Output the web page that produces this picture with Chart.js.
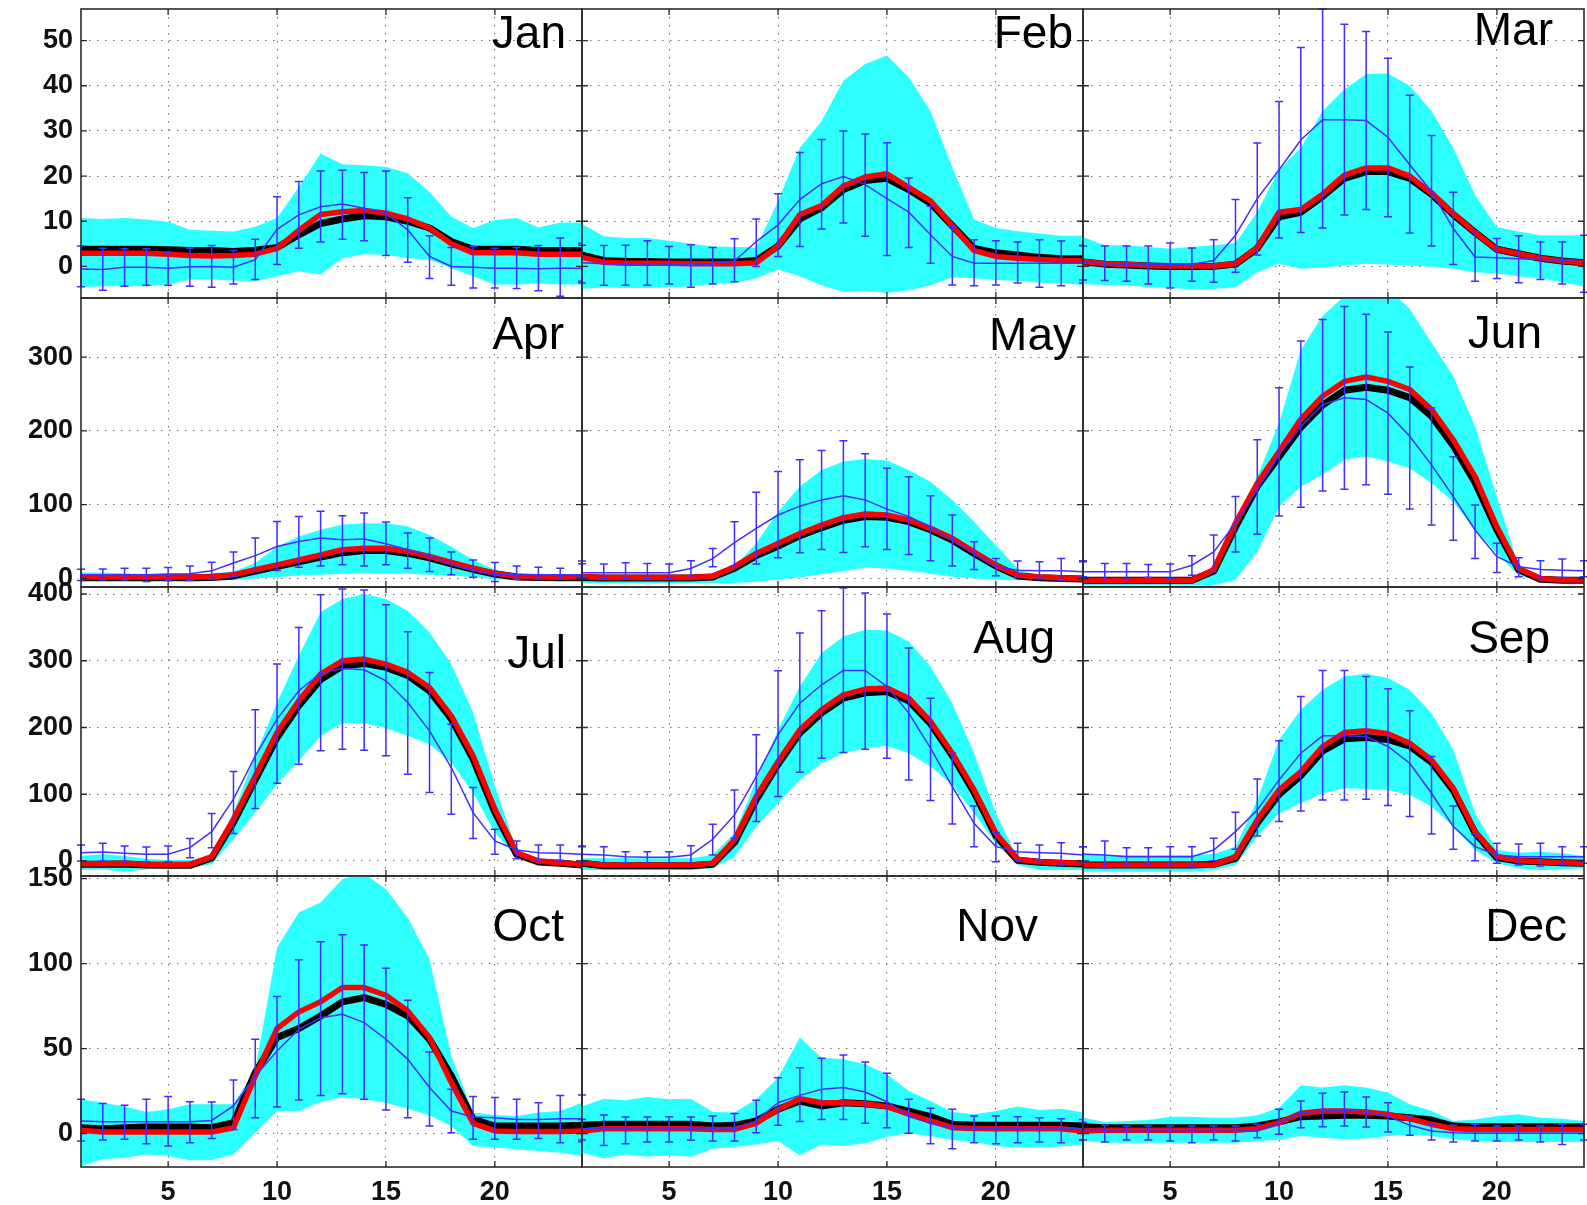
<!DOCTYPE html>
<html>
<head>
<meta charset="utf-8">
<script src="https://cdn.jsdelivr.net/npm/chart.js@4.4.1/dist/chart.umd.min.js"></script>
<style>
  html, body { margin: 0; padding: 0; background: #fff; }
  #wrap { position: relative; width: 1587px; height: 1205px; overflow: hidden; }
  #wrap canvas { position: absolute; }
</style>
</head>
<body>
<div id="wrap"></div>
<script>
// ---- data ----
const months = ['Jan', 'Feb', 'Mar', 'Apr', 'May', 'Jun', 'Jul', 'Aug', 'Sep', 'Oct', 'Nov', 'Dec'];
const hours = [1, 2, 3, 4, 5, 6, 7, 8, 9, 10, 11, 12, 13, 14, 15, 16, 17, 18, 19, 20, 21, 22, 23, 24];
const xTicks = [5, 10, 15, 20];
const yTicks = [[0, 10, 20, 30, 40, 50], [0, 100, 200, 300], [0, 100, 200, 300, 400], [0, 50, 100, 150]];
const yLimits = [[-7, 57], [-11.5, 380], [-22.5, 410.5], [-19.6, 151.5]];

// cyan band, upper edge
const bandUpper = [
  [10.7,10.5,10.7,10.4,9.9,8.1,7.9,7.7,8.8,10.7,17.6,25,22.6,22.4,22,20.6,16.5,11,8.5,10.3,10.7,8.6,9.7,9.7],
  [9.4,6.7,6.3,6.3,5.7,5,4.4,4.3,4.2,14.4,26.3,32.2,41.1,44.8,46.7,41.9,34.4,21.9,10.4,8.5,7.8,7.3,6.8,6.8],
  [6.5,4.7,4.7,4.3,3.9,4.3,4.7,5.1,12.1,21.4,26.2,34.4,39.2,42.6,42.7,40,34.4,26.2,15.8,8.7,7.7,6.9,6.9,6.9],
  [8,8,7,6,5,5,7,9.5,21,43,57,66,73,75,75,70.6,59,43,25,12,7,6,6,6],
  [3,2,2,2,2,2,7,16,47.6,90.6,124.6,147,158.6,161.8,160,147,131,106.5,77,45,13.6,2,1,1],
  [2,2,2,2,2,2,9,70,138,210.7,310,355.7,383,393,393,365,319.4,274,206,111,15.9,0,-1.4,-1.4],
  [7.5,10,7.5,3.5,1.5,1.5,7.5,72.5,157.5,237.5,307.5,372.5,392.5,400,392.5,375,342.5,295,222.5,112.5,17.5,0,-1.5,-2.5],
  [4,4,4,4,4,4,9,41.5,121.5,196.5,261.5,311.5,336.5,346.5,345.5,329,291.5,236.5,161.5,71.5,4,-1,-1,-1],
  [9,9,9,9,9,9,10.5,21.5,91.5,181.5,226.5,256.5,276.5,280.5,274,256.5,221.5,166.5,71.5,16.5,12.5,14,11.5,7.5],
  [20.2,18.2,15.9,12.7,14.3,17.3,17.3,17.3,37.8,109.4,130,135.9,149.6,153,143.7,127,102.5,45.7,12.4,11,10.4,12.4,13.3,18.2],
  [15.9,20.6,19.6,21.6,20.2,20.6,12.7,12.4,20.2,32.9,56.5,44.7,43.7,40.8,34.9,25.1,19.2,12.7,11.4,13.3,15.9,13.9,14.7,12.4],
  [9.4,6.9,7.5,8,10,10,9.4,9.4,10.8,15.3,28.4,27.1,28.4,27.1,24.1,17.3,13.3,7.5,8.4,10.4,11.4,9.4,8.8,7.5]
];
// cyan band, lower edge
const bandLower = [
  [-4.6,-4.4,-4.4,-4.4,-4,-2.9,-2.9,-3.1,-3.3,-2.2,-1.1,-1.8,1.8,2.7,2.6,1.8,1.5,-0.4,-2.2,-4,-4,-3.8,-4,-4],
  [-5,-4.7,-4.8,-4.8,-4.7,-4.4,-3.9,-3.6,-2.6,-0.7,-2.2,-4.2,-5.6,-5.4,-5.9,-5.3,-4.2,-2.4,-2.6,-3,-3.2,-3.6,-3.7,-4.1],
  [-3.9,-4.1,-4.2,-4.6,-4.8,-5.1,-5,-4.6,-1.3,0.6,-0.5,-0.3,0.2,0.6,0.4,0.2,-0.1,-0.5,-1.3,-1.6,-2.2,-2.7,-3.5,-4.4],
  [-3,-3,-3,-3,-3,-3,-2.5,-2,0,2,4,5,6.3,7,7,6.3,5,4,2,-1,-2,-2,-2,-2],
  [-6,-6,-6,-6,-6,-6,-6,-6,-4.5,-1.4,1.4,5.9,10,15,13.6,10.4,6.8,2.3,0,-1.4,-2.3,-2.3,-2.3,-2.3],
  [-9,-9,-9,-9,-9,-9,-9,-2,36,97,124.6,140.5,161,165.4,158.6,149.5,129,104,65.7,34,4.5,-4.5,-5.9,-5.9],
  [-13.5,-12.5,-16.5,-12.5,-10,-10,-5,32.5,72.5,115,150,187.5,206.5,206.5,199,187.5,175,147.5,102.5,42.5,5,-5,-7.5,-8.5],
  [-13.5,-13.5,-13.5,-13.5,-13.5,-13.5,-11,6.5,51.5,86.5,121.5,146.5,161.5,169,172.5,161.5,141.5,114,71.5,26.5,-6,-13.5,-13.5,-13.5],
  [-16,-16,-16,-16,-16,-16,-13.5,-6,36.5,71.5,86.5,101.5,109,108,106.5,99,81.5,51.5,16.5,-3.5,-11,-13.5,-12.5,-11],
  [-19,-15.1,-14.1,-12.2,-13.1,-15.7,-15.5,-12.2,0.6,13.3,13.3,18.6,21.6,20.2,18.2,14.7,10.8,4.5,-7.3,-8.2,-9.2,-10.2,-11.2,-13.1],
  [-11.2,-14.5,-12.2,-13.5,-12.7,-13.5,-8.8,-7.8,-6.3,-4.3,-12.7,-6.3,-7.3,-5.7,-2,0.2,-1.4,-3.7,-4.9,-7.3,-8.2,-8.2,-7.6,-6.3],
  [-4.3,-5.3,-5.3,-5.3,-5.3,-5.3,-5.3,-5.3,-4.3,-3.7,-1.4,-2.4,-3.3,-2.9,-1.4,-0.8,-1.4,-3.3,-4.3,-4.9,-4.9,-4.9,-4.9,-4.9]
];
// thick black line
const blackLine = [
  [3.8,3.8,3.8,3.8,3.7,3.5,3.5,3.3,3.6,4.2,7,9.5,10.5,11.2,11,10,8.5,5.5,3.8,3.8,3.8,3.5,3.5,3.5],
  [2.5,1.3,1.1,1.1,1,1,1,1,1.3,4.5,10.5,13,17,19,19.5,17,14,9,4,3,2.5,2,1.7,1.7],
  [1,0.5,0.3,0.1,0,0,0,0.5,4,11,12,15.5,19.5,21,21,19.5,16,11.5,7.5,3.8,2.8,1.8,1.2,0.8],
  [1,1,1,1,1,1,1.5,3.5,10,16.5,22.5,29,35,38,38,34,28,20,12.5,6,2,1.2,1,1],
  [1.5,0.6,0.6,0.6,0.6,0.6,2.2,14,31,44,58,69,79,84,83,77,66,52,34,17,3.5,1,0,-0.5],
  [-2.3,-2.3,-2.3,-2.3,-2.3,-2.3,10,70,125,165,205,235,255,259,255,245,220,180,130,66,12,-1,-2.3,-2.3],
  [-5,-5,-4.5,-6,-6.5,-6.5,4.5,58,122,185,233,272,292,296,290,278,255,213,153,73,10,-1.5,-3.5,-6],
  [-3.5,-7,-7,-7,-7,-7,-5,28,92,145,192,222,244,252,254,240,206,158,103,38,1,-2,-3.5,-4.5],
  [-6,-6,-6,-6,-6,-6,-5,4,57,100,128,165,183,185,182,172,148,106,42,5,0,-1,-2.5,-3.5],
  [3.5,2.9,3.5,3.9,3.9,3.9,3.5,6.5,35.9,56.5,61.8,69.2,77.5,80,76,69.2,55.5,33.9,8.4,4.5,4.5,4.5,4.5,4.9],
  [4.9,5.5,5.5,5.5,5.5,5.5,4.5,4.9,7.5,14.3,19.2,16.3,18.2,17.6,16.3,13.3,10,5.5,4.9,4.9,4.9,4.9,4.9,4.5],
  [4.1,3.5,3.5,3.5,3.5,3.5,3.5,3.5,4.5,6.9,10,10.4,10.8,10.8,10.4,9.4,8,4.5,4.1,4.1,4.1,4.1,4.1,4.1]
];
// thick red line
const redLine = [
  [2.9,2.9,2.9,2.9,2.7,2.4,2.3,2.4,2.7,4,8,11.5,12.1,12.4,11.8,10.5,8.5,5,3,3,3,2.7,2.7,2.7],
  [2,0.9,0.7,0.7,0.7,0.6,0.6,0.6,0.8,4.5,11.5,13.5,17.8,19.8,20.5,17.5,14.5,9,3.5,2.2,1.8,1.5,1.3,1.3],
  [1.1,0.6,0.4,0.2,0.1,0.1,0.1,0.6,4.2,12,12.6,16,20.2,21.8,21.8,20,16.2,11.7,7.5,3.8,2.8,1.8,1.2,0.8],
  [2,2,2,2,2,2,2.5,5,12,18.5,25,32,39,41,41,36.7,30,21.7,14,7,2.7,2,2,2],
  [2.3,1.4,1.4,1.4,1.4,1.4,3.2,16,34,47.6,61,72.5,82.5,87.4,86,79.3,68,54.4,36,18,4.5,2,1,0],
  [-2.3,-2.3,-2.3,-2.3,-2.3,-2.3,12,75,129,172,216,247,267,273,267,256,229,188,138,70,13.6,0,-2,-2],
  [-4,-4,-3.5,-5,-5.5,-5.5,6.5,62.5,127.5,192.5,240,280,300,302.5,295,282.5,260,217.5,157.5,77.5,12.5,0,-2.5,-5],
  [-2.5,-6,-6,-6,-6,-6,-3.5,31.5,96.5,149,196.5,226.5,249,257.5,259,244,209,161.5,106.5,41.5,2.5,-1,-2.5,-3.5],
  [-6,-6,-6,-6,-6,-6,-6,6.5,61.5,106.5,134,171.5,192.5,195,190.5,176.5,151.5,109,44,6.5,0.5,-1,-2.5,-3.5],
  [2,1,1,1,1,1,1,3.5,33.9,61.8,71.6,77.5,85.9,85.9,81.4,72.2,56.5,30,6.1,1.6,1.2,1.2,1.2,1.6],
  [1.6,2.9,2.9,2.9,2.9,2.9,2.5,2.5,6.1,14.3,20.6,18.2,18.2,17.6,15.9,11.4,7.5,3.5,3.1,2.9,2.9,2.9,2.9,1.6],
  [1.6,2,2,2,2,2,2,2,2.9,6.5,12,13.3,13.3,12.7,11.4,8.8,5.5,2.9,2.5,2.5,2.5,2.5,2.5,2.5]
];
// thin blue line
const blueLine = [
  [-0.6,-0.7,-0.2,-0.2,-0.4,-0.1,0,-0.2,1.5,8.2,11.4,13.2,13.8,12.9,11.8,8.1,2.2,0,-0.2,-0.4,-0.4,-0.5,-0.4,-0.4],
  [0.8,0.6,0.5,0.6,0.5,0.5,0.5,1.2,5.5,9.2,14.8,18.3,19.9,18.1,15,12,7,2.2,0.7,0.7,0.7,0.7,0.7,0.7],
  [0.8,0.6,0.5,0.5,0.5,0.5,1.3,6.9,15,21.4,28,32.5,32.5,32.3,28.6,22.5,16.6,8.4,2.1,1.9,1.7,1.5,1.3,1],
  [5,5,5,5,6,6.3,10.4,21,31,43.4,50,54.8,52.5,53.4,47,39,31,18.6,10.9,5,5,5,5,5],
  [7.7,7.7,7.7,7.7,7.7,13.6,27,48.5,68,86,98,106.5,112,106.5,94,84,70,52,34,16,11.3,10.4,10.4,9],
  [9,9,9,9,9,18,36,75,120,167.6,206,235.6,244.7,242.4,224,192.6,154,111,65.7,29.5,15.9,12.2,11.3,10.4],
  [12.5,13.5,11.5,10,10,20,44,92.5,157.5,212.5,255,281.5,288.5,286.5,270,237.5,195,140,72.5,30,16.5,12.5,11.5,10],
  [10,9,6.5,5.5,5.5,9,32.5,69,126.5,189,236.5,264,285.5,285.5,261.5,221.5,169,111.5,56.5,21.5,14,12.5,11.5,9],
  [10.5,9,6.5,6.5,6.5,6.5,16.5,44,76.5,121.5,161.5,187.5,187.5,186.5,171.5,146.5,101.5,51.5,21.5,9,6.5,6.5,6.5,6.5],
  [7.5,7,7,7,7,7,7.8,16.3,33.9,48.6,61.4,68.2,70.2,65.3,55.5,43.7,27.1,13.3,9.8,9.4,8.4,8.4,8.8,8.8],
  [2.9,2.9,2.9,2.9,2.9,2.9,2.9,2.9,7.5,18.2,22.5,26.1,27.1,24.5,18.8,10.4,5.9,3.5,2.9,2.9,2.9,2.9,2.9,2.9],
  [1.6,1.6,1.6,1.6,1.6,1.6,1.6,1.6,1.6,6.1,12.4,13.3,13.9,12.7,10.4,4.9,1.6,0.6,0.2,0.2,0.2,0.2,0.2,0.2]
];
// blue error bars, top and bottom
const errUpper = [
  [4.5,4,3.9,3.9,3.2,4,4.6,3.5,6,15.4,18.8,21.1,21.3,20.8,21.1,15.2,6.8,4.2,4.4,4,4.2,4.6,6.3,5.1],
  [4.7,4.6,4.7,5.7,4.4,4.8,4.2,6.1,10.5,16.1,25.2,28.1,30,29.3,27.4,19.6,13.3,8.9,5.9,5.7,5.4,5.9,5.6,4.7],
  [4.5,4.5,4.5,4.5,5.2,4.1,5.9,14.8,27.3,36.5,48.5,57,53.6,52,46.1,37.9,29,16.4,7.8,6.2,6.8,5.4,5.4,6.9],
  [12.7,13,14,14,15,17,22,36,55,77.4,84,91,85,88.7,76.5,61.5,55,36,25,21.7,17,15.4,14,20],
  [23.6,19.5,21.3,20.4,19.5,24,40.8,77,117,145,161,173.5,186.7,169,149.5,138,112,86,49.8,27,23.6,22.6,27,22.6],
  [24,20.4,20.4,19,19.5,30.8,58.9,111,188,258.3,321.7,351,368.4,358,334,286.4,231,165,99.7,47.6,28,24,26.3,24],
  [24,26.5,22.5,21,22.5,33.5,71,134,226.5,295,350,399,407.5,406,384,343.5,282.5,205,110,47.5,30,24,24,22.5],
  [21.5,21.5,14,14,14,23,55,106.5,189,285,341.5,375,409,401.5,370,319,244,161.5,82.5,42.5,26.5,24,27.5,21.5],
  [21.5,30,20,20,21.5,21.5,34,73,123,180,246.5,285.5,285.5,276.5,258,225,156.5,82.5,40.5,26.5,25.5,26.5,21.5,21.5],
  [20.2,17.8,16.7,20.2,21.8,18.8,18.6,31.6,55.5,80.6,102.2,112.9,116.9,111,97.3,78.4,48,26.1,21.8,21.2,20.2,18.2,22.5,22.7],
  [8.4,11,9.8,9.8,10,9.8,10.4,11.8,19.6,32.9,38.8,44.3,46.3,42.2,35.5,20.2,14.9,14.3,10.4,10.4,10,9.4,8.8,8.4],
  [6.5,4.9,4.5,4.5,4.5,4.5,4.5,4.5,5.5,14.3,19.2,23.7,24.5,21.6,18.2,10.4,5.5,4.9,5.5,4.5,4.5,4.5,5.5,5.5]
];
const errLower = [
  [-4.5,-5.3,-4.4,-4.2,-4.2,-4.4,-4.6,-3.9,-2.9,0.4,4,5.4,6,5.7,2.4,0.9,-2.7,-4.2,-4.8,-4.8,-4.9,-5.4,-6.6,-3.3],
  [-3.7,-4.2,-4.2,-4.2,-3.9,-4.6,-3.9,-3.4,0,2.2,4.4,8.3,9.6,6.7,2.4,4.2,0.7,-4.1,-4.3,-4.1,-3.7,-4.6,-4.3,-3.7],
  [-3,-3.1,-3.3,-3.9,-4.8,-3.3,-3.5,-1.3,2.5,6.3,7.5,8.5,11.4,12.6,11,7.4,4.5,0.4,-3.3,-2.7,-3.6,-2.9,-3.9,-5.7],
  [-2.7,-2,-2,-4,-2.7,-2.7,-1,2.7,9.5,11,15.4,17,18.6,17,18.6,14,9.5,5,1.8,-4,-1,-1,-1,2],
  [2.3,0,0,0,0,3.6,16,16.8,19.5,28,35,39.4,35.3,43,39.4,32.6,24,16.8,12.2,3.6,1.4,0,-3,0],
  [2.3,-1.4,-1.4,1.4,0,4.5,9,36,59.8,84.7,96.5,118.7,121,126.9,114,94.2,72.5,52,27,8,2.3,0.9,1.4,2.3],
  [0,0,-1,-1,-1,5,20,41,78.5,116.5,145,165,167.5,166,157.5,130,102.5,70,33.5,10,3.5,1.5,1,0],
  [-1,-3.5,-2.5,-3.5,-3.5,-3.5,9,34,59,96.5,133,154,162.5,167.5,154,121.5,90.5,55.5,21.5,-1,1.5,1.5,-6,-3.5],
  [-3.5,-11,-4.5,-4.5,-6,-7.5,0.5,17.5,37.5,59,75,91.5,91.5,92.5,83,66.5,40.5,17.5,0.5,-3.5,-6,-7.5,-4.5,-3.5],
  [-4.3,-3.7,-3.3,-5.9,-7.3,-5.3,-2.9,2.5,9.4,15.7,19.8,22.5,23.5,20.2,13.9,9.4,4.5,0.6,-3.3,-3.3,-3.3,-2.9,-5.3,-4.7],
  [-3.7,-6.9,-5.9,-4.9,-4.9,-3.9,-4.3,-4.3,0.6,4.9,7.1,8.4,8.4,6.1,3.5,0.2,-5.9,-8.8,-5.3,-5.9,-5.3,-4.9,-5.3,-3.7],
  [-3.7,-4.9,-3.7,-3.7,-4.3,-5.3,-3.7,-4.3,-2.4,-0.4,3.5,4.1,4.5,3.9,1,-1,-3.7,-4.9,-4.3,-4.3,-3.7,-4.9,-6.3,-3.7]
];

// ---- layout ----
const colLeft = [81, 582, 1083];
const panelW = 501;
const rowTop = [9, 298, 587, 876];
const rowH = [289, 289, 289, 291];
// month label: gap from right edge, baseline below top edge
const labelGap = [16, 10, 31, 18, 7, 42, 16, 28, 34, 18, 45, 17];
const labelBase = [39, 39, 36, 51, 52, 50, 81, 66, 66, 65, 65, 65];

const CYAN = 'rgb(45,255,255)';
const BLUE = '#3f2fff';
const GRID = '#6e6e6e';
const tickFont = { family: '"Liberation Sans", Arial, sans-serif', size: 27, weight: 'bold' };

// keep the axes from asking for extra room around the plot
const noPad = s => { s.paddingTop = 0; s.paddingBottom = 0; s.paddingLeft = 0; s.paddingRight = 0; };

const wrap = document.getElementById('wrap');

months.forEach((name, m) => {
  const r = Math.floor(m / 3), c = m % 3;
  const ml = c === 0 ? 81 : 16, mr = 16, mt = 16, mb = r === 3 ? 40 : 16;
  const w = ml + panelW + mr, h = mt + rowH[r] + mb;

  const cv = document.createElement('canvas');
  cv.width = w; cv.height = h;
  cv.style.left = (colLeft[c] - ml) + 'px';
  cv.style.top = (rowTop[r] - mt) + 'px';
  cv.style.width = w + 'px'; cv.style.height = h + 'px';
  wrap.appendChild(cv);

  const errorBars = {
    id: 'errorBars' + m,
    afterDatasetsDraw(chart) {
      const { ctx, scales: { x, y } } = chart;
      ctx.save();
      ctx.strokeStyle = BLUE;
      ctx.lineWidth = 1.5;
      ctx.beginPath();
      hours.forEach((hr, i) => {
        const px = x.getPixelForValue(hr);
        const p1 = y.getPixelForValue(errUpper[m][i]);
        const p2 = y.getPixelForValue(errLower[m][i]);
        ctx.moveTo(px, p1); ctx.lineTo(px, p2);
        ctx.moveTo(px - 4, p1); ctx.lineTo(px + 4, p1);
        ctx.moveTo(px - 4, p2); ctx.lineTo(px + 4, p2);
      });
      ctx.stroke();
      ctx.restore();
    }
  };

  const frame = {
    id: 'frame' + m,
    afterDraw(chart) {
      const { ctx, chartArea: a, scales: { x, y } } = chart;
      ctx.save();
      ctx.strokeStyle = '#2b2b2b';
      ctx.lineWidth = 1.6;
      ctx.strokeRect(a.left, a.top, a.right - a.left, a.bottom - a.top);
      ctx.lineWidth = 1.3;
      ctx.beginPath();
      y.ticks.forEach(t => {
        const py = y.getPixelForValue(t.value);
        ctx.moveTo(a.left, py); ctx.lineTo(a.left + 6, py);
        ctx.moveTo(a.right, py); ctx.lineTo(a.right - 6, py);
      });
      x.ticks.forEach(t => {
        const px = x.getPixelForValue(t.value);
        ctx.moveTo(px, a.top); ctx.lineTo(px, a.top + 6);
        ctx.moveTo(px, a.bottom); ctx.lineTo(px, a.bottom - 6);
      });
      ctx.stroke();
      ctx.font = '46px "Liberation Sans", Arial, sans-serif';
      ctx.fillStyle = '#000';
      ctx.textAlign = 'right';
      ctx.textBaseline = 'alphabetic';
      ctx.fillText(name, a.right - labelGap[m], a.top + labelBase[m]);
      ctx.restore();
    }
  };

  new Chart(cv, {
    type: 'line',
    data: {
      labels: hours,
      datasets: [
        { data: bandUpper[m], borderColor: 'rgba(0,0,0,0)', borderWidth: 0, pointRadius: 0, fill: false, order: 5 },
        { data: bandLower[m], borderColor: 'rgba(0,0,0,0)', borderWidth: 0, pointRadius: 0, fill: '-1', backgroundColor: CYAN, order: 4 },
        { data: blackLine[m], borderColor: '#000', borderWidth: 7, pointRadius: 0, borderJoinStyle: 'round', order: 3, clip: false },
        { data: redLine[m], borderColor: '#ff0000', borderWidth: 5.5, pointRadius: 0, borderJoinStyle: 'round', order: 2, clip: false },
        { data: blueLine[m], borderColor: BLUE, borderWidth: 1.5, pointRadius: 0, order: 1, clip: false }
      ]
    },
    options: {
      responsive: false,
      animation: false,
      devicePixelRatio: 1,
      events: [],
      layout: { padding: { top: mt, right: mr, left: 0, bottom: 0 } },
      plugins: { legend: { display: false }, tooltip: { enabled: false } },
      scales: {
        x: {
          type: 'linear', min: 1, max: 24,
          afterBuildTicks: s => { s.ticks = xTicks.map(v => ({ value: v })); },
          afterFit: s => { s.height = mb; noPad(s); },
          grid: { color: GRID, lineWidth: 1, drawTicks: false },
          border: { display: false, dash: [1.5, 6.5] },
          ticks: { display: r === 3, font: tickFont, color: '#111', padding: 9, maxRotation: 0, autoSkip: false }
        },
        y: {
          type: 'linear', min: yLimits[r][0], max: yLimits[r][1],
          afterBuildTicks: s => { s.ticks = yTicks[r].map(v => ({ value: v })); },
          afterFit: s => { s.width = ml; noPad(s); },
          grid: { color: GRID, lineWidth: 1, drawTicks: false },
          border: { display: false, dash: [1.5, 6.5] },
          ticks: { display: c === 0, font: tickFont, color: '#111', padding: 8, autoSkip: false }
        }
      }
    },
    plugins: [errorBars, frame]
  });
});
</script>
</body>
</html>
